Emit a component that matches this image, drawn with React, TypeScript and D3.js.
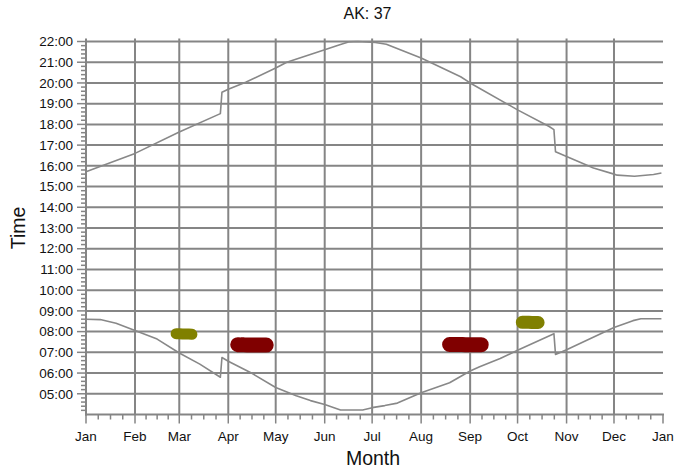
import React from "react";
import * as d3 from "d3";

const TITLE = "AK: 37";
const MONTH_LABELS = ["Jan", "Feb", "Mar", "Apr", "May", "Jun", "Jul", "Aug", "Sep", "Oct", "Nov", "Dec", "Jan"];
const HOUR_TICKS = [5, 6, 7, 8, 9, 10, 11, 12, 13, 14, 15, 16, 17, 18, 19, 20, 21, 22];

// day of year (0 = Jan 1) and time of day in hours
const sunriseDays = [0, 9, 19, 31, 45, 59, 72, 85, 86, 90, 104, 120, 133, 142, 151, 161, 175, 181, 189, 197, 212, 230, 243, 249, 262, 273, 296, 297, 304, 334, 346, 351, 364];
const sunriseTimes = [8.6, 8.58, 8.4, 8.05, 7.64, 6.97, 6.43, 5.8, 6.75, 6.57, 6.03, 5.3, 4.9, 4.67, 4.48, 4.22, 4.22, 4.33, 4.43, 4.55, 5.05, 5.53, 6.1, 6.3, 6.7, 7.1, 7.9, 6.9, 7.12, 8.2, 8.53, 8.62, 8.62];

const sunsetDays = [0, 31, 59, 85, 86, 90, 101, 120, 127, 151, 161, 166, 172, 183, 190, 212, 237, 243, 273, 293, 296, 297, 304, 321, 334, 336, 347, 359, 364];
const sunsetTimes = [15.72, 16.6, 17.63, 18.52, 19.55, 19.7, 20.03, 20.72, 21.0, 21.6, 21.85, 21.98, 22.0, 21.95, 21.87, 21.2, 20.3, 20.0, 18.7, 17.9, 17.75, 16.68, 16.45, 15.9, 15.6, 15.55, 15.5, 15.58, 15.65];

const oliveSpringDays = [57, 59, 61, 63, 65, 67];
const oliveSpringTimes = [7.9, 7.9, 7.89, 7.88, 7.88, 7.87];
const redSpringDays = [96, 98, 100, 102, 104, 106, 108, 110, 112, 114];
const redSpringTimes = [7.37, 7.36, 7.36, 7.35, 7.35, 7.35, 7.35, 7.35, 7.35, 7.35];
const redFallDays = [230, 232, 234, 236, 238, 240, 242, 244, 246, 248, 250];
const redFallTimes = [7.38, 7.38, 7.38, 7.38, 7.38, 7.37, 7.37, 7.37, 7.37, 7.37, 7.37];
const oliveFallDays = [276, 278, 280, 282, 284, 286];
const oliveFallTimes = [8.45, 8.45, 8.45, 8.44, 8.44, 8.44];

const W = 676, H = 473;
const L = 86, R = 663, T = 41.5, B = 414.5;
const GRID = "#858585";
const FONT = "'Liberation Sans', Arial, sans-serif";

const start = new Date(Date.UTC(2021, 0, 1));
const end = new Date(Date.UTC(2022, 0, 1));
const dayToDate = (d: number) => new Date(start.getTime() + d * 864e5);

export default function App() {
  const x = d3.scaleUtc().domain([start, end]).range([L, R]);
  const y = d3.scaleLinear().domain([4, 22]).range([B, T]);

  const months = d3.utcMonth.range(start, d3.utcMonth.offset(end, 1));
  const minorX: number[] = [];
  for (let i = 0; i < 12; i++) {
    const a = x(months[i]);
    const b = x(months[i + 1]);
    for (let k = 1; k < 4; k++) minorX.push(a + ((b - a) * k) / 4);
  }
  const minorY = d3.range(4.2, 22.001, 0.2).filter((v) => Math.abs(v - Math.round(v)) > 0.01);

  const line = d3
    .line<[number, number]>()
    .x((d) => x(dayToDate(d[0])))
    .y((d) => y(d[1]));
  const sunrise = sunriseDays.map((d, i) => [d, sunriseTimes[i]] as [number, number]);
  const sunset = sunsetDays.map((d, i) => [d, sunsetTimes[i]] as [number, number]);

  const blobs = [
    { days: oliveSpringDays, times: oliveSpringTimes, color: "#808000", r: 5.5 },
    { days: redSpringDays, times: redSpringTimes, color: "#800000", r: 7.5 },
    { days: redFallDays, times: redFallTimes, color: "#800000", r: 7.5 },
    { days: oliveFallDays, times: oliveFallTimes, color: "#808000", r: 6.5 },
  ];

  return (
    <svg width={W} height={H} style={{ position: "absolute", left: 0, top: 0, background: "#fff" }} fontFamily={FONT}>
      <rect width={W} height={H} fill="#fff" />
      {/* horizontal grid */}
      {HOUR_TICKS.map((h) => (
        <line key={"h" + h} x1={L} x2={R} y1={y(h)} y2={y(h)} stroke={GRID} strokeWidth={2} />
      ))}
      {/* vertical grid */}
      {months.slice(1, 12).map((m, i) => (
        <line key={"v" + i} x1={x(m)} x2={x(m)} y1={T - 3} y2={B} stroke={GRID} strokeWidth={2} />
      ))}
      {/* curves */}
      <path d={line(sunrise) || ""} fill="none" stroke="#888" strokeWidth={1.6} strokeLinejoin="round" />
      <path d={line(sunset) || ""} fill="none" stroke="#888" strokeWidth={1.6} strokeLinejoin="round" />
      {/* blobs: dense daily markers merged into strokes */}
      {blobs.map((b, bi) => (
        <path
          key={"b" + bi}
          d={line(b.days.map((d, i) => [d, b.times[i]] as [number, number])) || ""}
          fill="none"
          stroke={b.color}
          strokeWidth={b.r * 2}
          strokeLinecap="round"
          strokeLinejoin="round"
        />
      ))}
      {/* axes */}
      <line x1={L} x2={L} y1={T - 3} y2={B + 1} stroke={GRID} strokeWidth={2} />
      <line x1={L - 1} x2={R + 1} y1={B} y2={B} stroke={GRID} strokeWidth={2} />
      {HOUR_TICKS.map((h) => (
        <g key={"yt" + h}>
          <line x1={L - 9} x2={L} y1={y(h)} y2={y(h)} stroke={GRID} strokeWidth={1.5} />
          <text x={73} y={y(h)} dy="0.35em" textAnchor="end" fontSize={13.5} fill="#111">
            {String(h).padStart(2, "0") + ":00"}
          </text>
        </g>
      ))}
      {minorY.map((v, i) => (
        <line key={"ym" + i} x1={L - 5} x2={L} y1={y(v)} y2={y(v)} stroke={GRID} strokeWidth={1.5} />
      ))}
      {months.slice(0, 13).map((m, i) => (
        <g key={"xt" + i}>
          <line x1={x(m)} x2={x(m)} y1={B} y2={B + 9} stroke={GRID} strokeWidth={1.5} />
          <text x={x(m)} y={440.5} textAnchor="middle" fontSize={13.5} fill="#111">
            {MONTH_LABELS[i]}
          </text>
        </g>
      ))}
      {minorX.map((v, i) => (
        <line key={"xm" + i} x1={v} x2={v} y1={B} y2={B + 5} stroke={GRID} strokeWidth={1.5} />
      ))}
      {/* titles */}
      <text x={367.5} y={19} textAnchor="middle" fontSize={16} fill="#111">
        {TITLE}
      </text>
      <text x={373} y={465} textAnchor="middle" fontSize={19.5} fill="#111">
        Month
      </text>
      <text transform={`translate(25,228) rotate(-90)`} textAnchor="middle" fontSize={19.5} fill="#111">
        Time
      </text>
    </svg>
  );
}
